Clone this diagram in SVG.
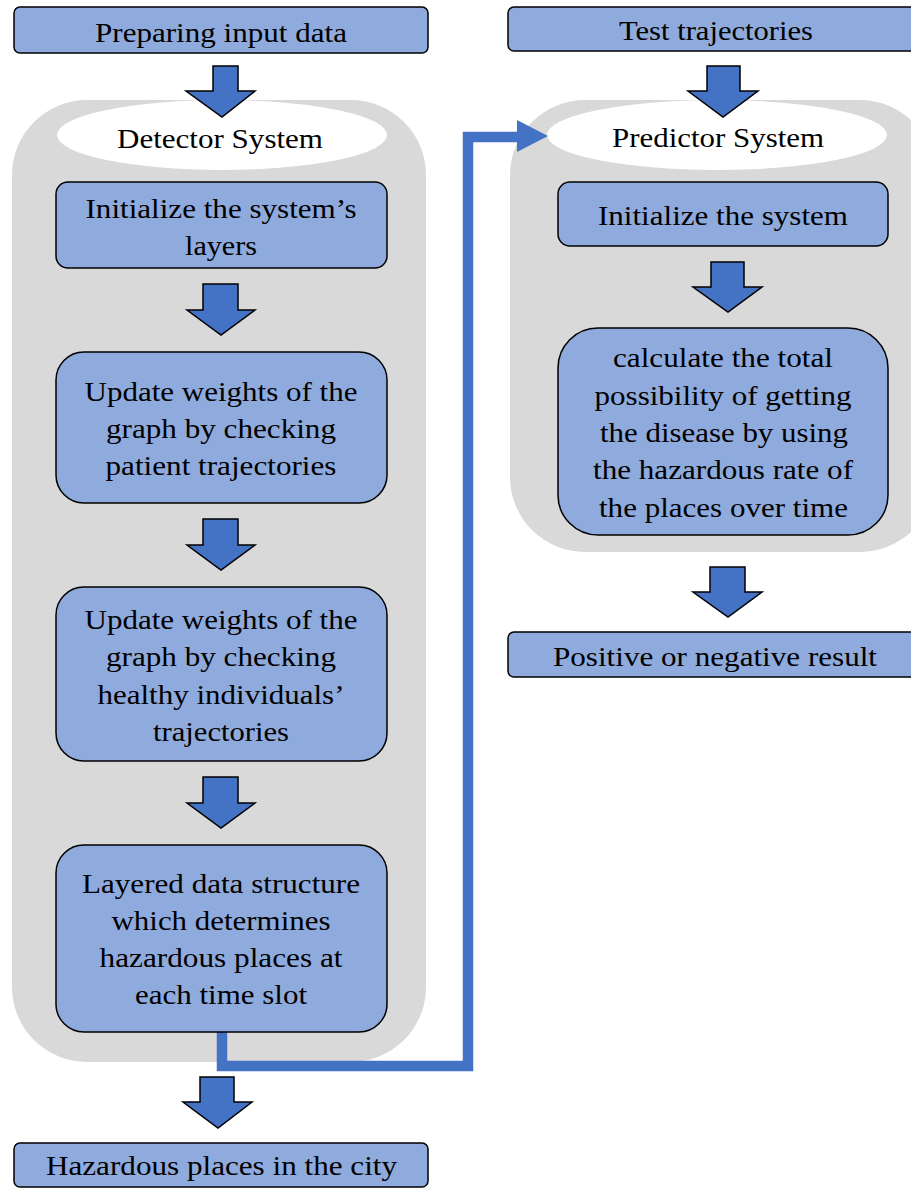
<svg xmlns="http://www.w3.org/2000/svg" width="911" height="1189" viewBox="0 0 911 1189">
<style>
.bg{fill:#D9D9D9}
.hd{fill:#FFFFFF}
.box{fill:#8FAADC;stroke:#000;stroke-width:1.5}
.arr{fill:#4472C4;stroke:#000;stroke-width:1.5;stroke-linejoin:miter}
.t{font-family:"Liberation Serif","Times New Roman",serif;font-size:28px;fill:#000;text-anchor:middle}
.con{fill:none;stroke:#4472C4;stroke-width:10.5;stroke-linejoin:miter}
</style>
<rect width="911" height="1189" fill="#FFFFFF"/>

<g id="detector-container">
<rect class="bg" x="12" y="100" width="414" height="962" rx="75"/>
<ellipse class="hd" cx="222" cy="135" rx="165" ry="35"/>
<text class="t" x="220" y="148" textLength="206" lengthAdjust="spacingAndGlyphs">Detector System</text>
</g>
<g id="predictor-container">
<rect class="bg" x="510" y="100" width="425" height="452" rx="75"/>
<ellipse class="hd" cx="717" cy="135" rx="170" ry="35"/>
<text class="t" x="718" y="147" textLength="212" lengthAdjust="spacingAndGlyphs">Predictor System</text>
</g>

<g id="connectors">
<polyline class="con" points="222,1032 222,1066 468,1066 468,137 520,137"/>
<polygon fill="#4472C4" points="517,120 548,136 517,152"/>
<polygon class="arr" points="213,66 238,66 238,91 255,91 222,117 186,91 213,91"/>
<polygon class="arr" points="203,284 238,284 238,310 255,310 221,335 187,310 203,310"/>
<polygon class="arr" points="203,519 238,519 238,545 255,545 221,570 187,545 203,545"/>
<polygon class="arr" points="203,777 238,777 238,803 255,803 221,828 187,803 203,803"/>
<polygon class="arr" points="200,1077 234,1077 234,1102 252,1102 218,1128 183,1102 200,1102"/>
<polygon class="arr" points="707,66 740,66 740,91 758,91 723,117 688,91 707,91"/>
<polygon class="arr" points="711,262 744,262 744,287 762,287 728,312 693,287 711,287"/>
<polygon class="arr" points="710,567 745,567 745,592 762,592 728,617 693,592 710,592"/>
</g>

<g id="preparing-input">
<rect class="box" x="14" y="7" width="414" height="46" rx="6"/>
<text class="t" x="221" y="42" textLength="252" lengthAdjust="spacingAndGlyphs">Preparing input data</text>
</g>
<g id="init-layers">
<rect class="box" x="56" y="182" width="331" height="86" rx="12"/>
<text class="t" x="221" y="218" textLength="271" lengthAdjust="spacingAndGlyphs">Initialize the system’s</text>
<text class="t" x="221" y="255" textLength="72" lengthAdjust="spacingAndGlyphs">layers</text>
</g>
<g id="update-patient">
<rect class="box" x="56" y="352" width="331" height="151" rx="28"/>
<text class="t" x="221" y="401" textLength="273" lengthAdjust="spacingAndGlyphs">Update weights of the</text>
<text class="t" x="221" y="438" textLength="230" lengthAdjust="spacingAndGlyphs">graph by checking</text>
<text class="t" x="221" y="475" textLength="231" lengthAdjust="spacingAndGlyphs">patient trajectories</text>
</g>
<g id="update-healthy">
<rect class="box" x="56" y="587" width="331" height="174" rx="28"/>
<text class="t" x="221" y="629" textLength="273" lengthAdjust="spacingAndGlyphs">Update weights of the</text>
<text class="t" x="221" y="666" textLength="230" lengthAdjust="spacingAndGlyphs">graph by checking</text>
<text class="t" x="221" y="704" textLength="247" lengthAdjust="spacingAndGlyphs">healthy individuals’</text>
<text class="t" x="221" y="741" textLength="136" lengthAdjust="spacingAndGlyphs">trajectories</text>
</g>
<g id="layered-structure">
<rect class="box" x="56" y="845" width="331" height="187" rx="28"/>
<text class="t" x="221" y="893" textLength="278" lengthAdjust="spacingAndGlyphs">Layered data structure</text>
<text class="t" x="221" y="930" textLength="219" lengthAdjust="spacingAndGlyphs">which determines</text>
<text class="t" x="221" y="967" textLength="243" lengthAdjust="spacingAndGlyphs">hazardous places at</text>
<text class="t" x="221" y="1004" textLength="172" lengthAdjust="spacingAndGlyphs">each time slot</text>
</g>
<g id="hazardous-places">
<rect class="box" x="14" y="1143" width="414" height="44" rx="6"/>
<text class="t" x="221.5" y="1175" textLength="351" lengthAdjust="spacingAndGlyphs">Hazardous places in the city</text>
</g>

<g id="test-trajectories">
<rect class="box" x="508" y="7" width="414" height="44" rx="6"/>
<text class="t" x="716" y="40" textLength="194" lengthAdjust="spacingAndGlyphs">Test trajectories</text>
</g>
<g id="init-system">
<rect class="box" x="558" y="182" width="330" height="64" rx="12"/>
<text class="t" x="723" y="225" textLength="250" lengthAdjust="spacingAndGlyphs">Initialize the system</text>
</g>
<g id="calculate">
<rect class="box" x="558" y="328" width="330" height="207" rx="40"/>
<text class="t" x="723" y="367" textLength="220" lengthAdjust="spacingAndGlyphs">calculate the total</text>
<text class="t" x="723" y="405" textLength="257" lengthAdjust="spacingAndGlyphs">possibility of getting</text>
<text class="t" x="724" y="442" textLength="248" lengthAdjust="spacingAndGlyphs">the disease by using</text>
<text class="t" x="723" y="479" textLength="260" lengthAdjust="spacingAndGlyphs">the hazardous rate of</text>
<text class="t" x="723.5" y="517" textLength="249" lengthAdjust="spacingAndGlyphs">the places over time</text>
</g>
<g id="result">
<rect class="box" x="508" y="632" width="414" height="45" rx="6"/>
<text class="t" x="715" y="666" textLength="324" lengthAdjust="spacingAndGlyphs">Positive or negative result</text>
</g>
</svg>
